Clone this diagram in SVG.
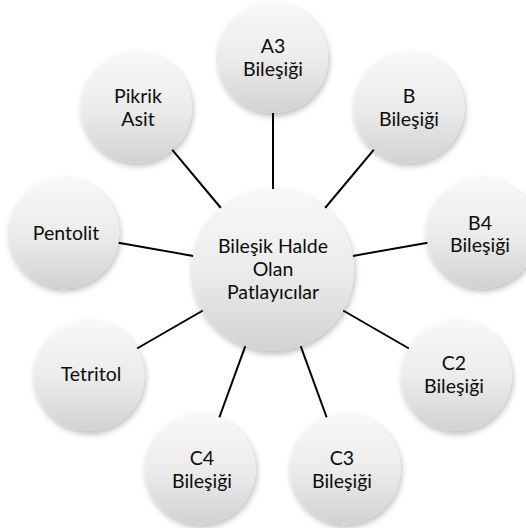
<svg xmlns="http://www.w3.org/2000/svg" width="526" height="528" viewBox="0 0 526 528">
  <style>
    .links line { stroke: #000; stroke-width: 2; stroke-linecap: butt; }
    .node circle { fill: url(#ball); filter: url(#shade); }
    .node text { font-family: Lato, "Open Sans", "Liberation Sans", sans-serif; font-size: 19.5px; fill: #0d0d0d; text-anchor: middle; }
  </style>
  <defs>
    <linearGradient id="ball" x1="0" y1="0" x2="0" y2="1">
      <stop offset="0" stop-color="#f8f8f8"/>
      <stop offset="0.5" stop-color="#ececec"/>
      <stop offset="1" stop-color="#d2d2d2"/>
    </linearGradient>
    <filter id="shade" x="-20%" y="-20%" width="140%" height="150%">
      <feDropShadow dx="1" dy="3" stdDeviation="3" flood-color="#000" flood-opacity="0.28"/>
    </filter>
  </defs>

  <!-- spokes from the hub to each outer circle -->
  <g id="connectors" class="links">
    <line x1="273" y1="189" x2="273" y2="113"/>
    <line x1="325.1" y1="208" x2="373.9" y2="149.7"/>
    <line x1="352.8" y1="255.9" x2="427.6" y2="242.7"/>
    <line x1="343.1" y1="310.5" x2="409" y2="348.5"/>
    <line x1="300.7" y1="346.1" x2="326.7" y2="417.5"/>
    <line x1="245.3" y1="346.1" x2="219.3" y2="417.5"/>
    <line x1="202.9" y1="310.5" x2="137" y2="348.5"/>
    <line x1="193.2" y1="255.9" x2="118.4" y2="242.7"/>
    <line x1="220.9" y1="208" x2="172.1" y2="149.7"/>
  </g>

  <g id="hub" class="node">
    <circle cx="273" cy="270" r="81"/>
    <text x="273" y="253">Bileşik Halde</text>
    <text x="273" y="276">Olan</text>
    <text x="273" y="299">Patlayıcılar</text>
  </g>

  <g id="a3" class="node">
    <circle cx="273" cy="58" r="55"/>
    <text x="273" y="53">A3</text>
    <text x="273" y="76">Bileşiği</text>
  </g>

  <g id="b" class="node">
    <circle cx="409.3" cy="107.6" r="55"/>
    <text x="409" y="103">B</text>
    <text x="409" y="126">Bileşiği</text>
  </g>

  <g id="b4" class="node">
    <circle cx="481.8" cy="233.2" r="55"/>
    <text x="480" y="230">B4</text>
    <text x="480" y="252">Bileşiği</text>
  </g>

  <g id="c2" class="node">
    <circle cx="456.6" cy="376" r="55"/>
    <text x="454" y="370">C2</text>
    <text x="454" y="393">Bileşiği</text>
  </g>

  <g id="c3" class="node">
    <circle cx="345.5" cy="469.2" r="55"/>
    <text x="342" y="465">C3</text>
    <text x="342" y="488">Bileşiği</text>
  </g>

  <g id="c4" class="node">
    <circle cx="200.5" cy="469.2" r="55"/>
    <text x="202" y="465">C4</text>
    <text x="202" y="488">Bileşiği</text>
  </g>

  <g id="tetritol" class="node">
    <circle cx="89.4" cy="376" r="55"/>
    <text x="91" y="381">Tetritol</text>
  </g>

  <g id="pentolit" class="node">
    <circle cx="64.2" cy="233.2" r="55"/>
    <text x="66" y="240">Pentolit</text>
  </g>

  <g id="pikrik" class="node">
    <circle cx="136.7" cy="107.6" r="55"/>
    <text x="138" y="103">Pikrik</text>
    <text x="138" y="126">Asit</text>
  </g>
</svg>
